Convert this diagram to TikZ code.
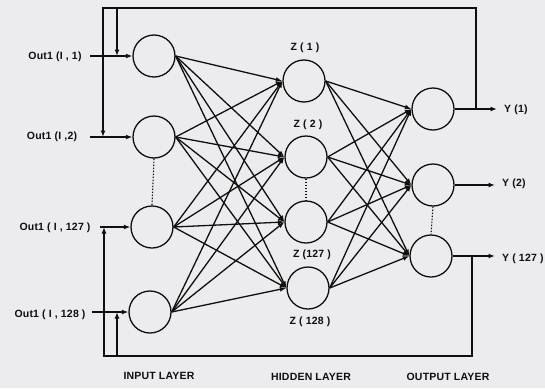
\documentclass[tikz,border=0pt]{standalone}
\usepackage{fontspec}
\setmainfont{Liberation Sans}
\usetikzlibrary{arrows.meta}
\definecolor{paper}{RGB}{236,236,239}
\definecolor{ink}{RGB}{15,15,15}
\begin{document}
\begin{tikzpicture}[x=1pt,y=-1pt,
  neuron/.style={draw=ink,circle,minimum size=42pt,inner sep=0pt,line width=1.3pt},
  wire/.style={draw=ink,line width=1.3pt},
  arr/.style={wire,-{Latex[length=6.5pt,width=5pt]}},
  lbl/.style={font=\bfseries\fontsize{10.5}{12}\selectfont\addfontfeature{LetterSpace=2},text=ink,inner sep=1pt},
  dots/.style={draw=ink,dash pattern=on 1.5pt off 1.5pt,line width=1.1pt}]
\fill[paper] (0,0) rectangle (545,388);
\useasboundingbox (0,0) rectangle (545,388);

% neurons
\node[neuron] (I1) at (154,56) {};
\node[neuron] (I2) at (154,137) {};
\node[neuron] (I3) at (152,227) {};
\node[neuron] (I4) at (150,312) {};
\node[neuron] (H1) at (304,81) {};
\node[neuron] (H2) at (306,157) {};
\node[neuron] (H3) at (306,222) {};
\node[neuron] (H4) at (308,288) {};
\node[neuron] (O1) at (433,109) {};
\node[neuron] (O2) at (433,185) {};
\node[neuron] (O3) at (431,256) {};

% input labels
\node[lbl] (L1) at (55,57) {Out1 (I , 1)};
\node[lbl] (L2) at (52,137) {Out1 (I ,2)};
\node[lbl] (L3) at (55,228) {Out1 ( I , 127 )};
\node[lbl] (L4) at (50,315) {Out1 ( I , 128 )};

% hidden labels
\node[lbl] (Z1) at (305,48) {Z ( 1 )};
\node[lbl] (Z2) at (308,125) {Z ( 2 )};
\node[lbl] (Z3) at (312,255) {Z (127 )};
\node[lbl] (Z4) at (310,322) {Z ( 128 )};

% output labels
\node[lbl,anchor=west] (Y1) at (503,110) {Y (1)};
\node[lbl,anchor=west] (Y2) at (501,184) {Y (2)};
\node[lbl,anchor=west] (Y3) at (501,259) {Y ( 127 )};

% layer titles
\node[lbl] (TI) at (159,376) {INPUT LAYER};
\node[lbl] (TH) at (311,377) {HIDDEN LAYER};
\node[lbl] (TO) at (448,377) {OUTPUT LAYER};

% input arrows
\coordinate (in1) at (90,56);
\coordinate (in2) at (90,137);
\coordinate (in3) at (100,227);
\coordinate (in4) at (92,312);
\draw[arr] (in1) -- (I1);
\draw[arr] (in2) -- (I2);
\draw[arr] (in3) -- (I3);
\draw[arr] (in4) -- (I4);

% output arrows
\coordinate (y1) at (497,109);
\coordinate (y2) at (495,185);
\coordinate (y3) at (495,256);
\draw[arr] (O1) -- (y1);
\draw[arr] (O2) -- (y2);
\draw[arr] (O3) -- (y3);

% full connections
\foreach \a in {I1,I2,I3,I4}
  \foreach \b in {H1,H2,H3,H4}
    \draw[arr] (\a.east) -- (\b.west);
\foreach \a in {H1,H2,H3,H4}
  \foreach \b in {O1,O2,O3}
    \draw[arr] (\a.east) -- (\b.west);

% elided neurons
\draw[dots] (I2.south) -- (I3.north);
\draw[dots] (H2.south) -- (H3.north);
\draw[dots] (O2.south) -- (O3.north);

% recurrent loop over the top
\coordinate (fa) at (476,109);
\coordinate (tr) at (476,8);
\coordinate (tl) at (103,8);
\coordinate (j2) at (103,137);
\coordinate (t1) at (117,8);
\coordinate (j1) at (117,56);
\draw[arr] (fa) -- (tr) -- (tl) -- (j2);
\draw[arr] (t1) -- (j1);

% recurrent loop underneath
\coordinate (fb) at (472,256);
\coordinate (br) at (472,356);
\coordinate (bl) at (104,356);
\coordinate (j3) at (104,227);
\coordinate (b4) at (117,356);
\coordinate (j4) at (117,312);
\draw[arr] (fb) -- (br) -- (bl) -- (j3);
\draw[arr] (b4) -- (j4);
\end{tikzpicture}
\end{document}
